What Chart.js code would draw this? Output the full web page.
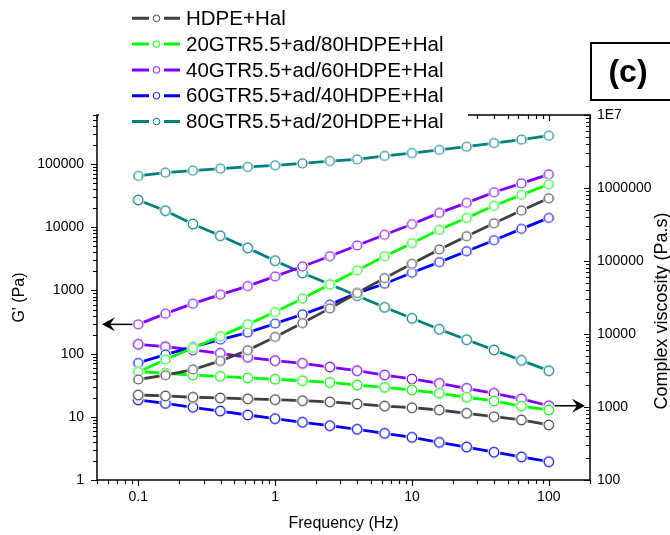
<!DOCTYPE html>
<html>
<head>
<meta charset="utf-8">
<title>G' and complex viscosity vs frequency</title>
<script src="https://cdn.jsdelivr.net/npm/chart.js@4.4.1/dist/chart.umd.min.js"></script>
<style>
  html, body { margin: 0; padding: 0; background: #fff; }
  #wrap { position: relative; width: 670px; height: 535px; }
</style>
</head>
<body>
<div id="wrap"><canvas id="rheo" width="670" height="535"></canvas></div>
<script>
// frequency sweep, 5 points per decade
const freq = [0.1, 0.158, 0.251, 0.398, 0.631, 1, 1.585, 2.512, 3.981, 6.31, 10, 15.85, 25.12, 39.81, 63.1, 100];

const names = [
  'HDPE+Hal',
  '20GTR5.5+ad/80HDPE+Hal',
  '40GTR5.5+ad/60HDPE+Hal',
  '60GTR5.5+ad/40HDPE+Hal',
  '80GTR5.5+ad/20HDPE+Hal'
];
const colors = ['#404040', '#00ff00', '#8000ff', '#0000ff', '#008080'];

// storage modulus G' (Pa) - left axis
const gHdpe = [39, 45.6, 56.1, 76.7, 113, 184, 305, 521, 910, 1570, 2650, 4460, 7230, 11600, 18400, 28800];
const g20 = [51.4, 80.7, 123, 188, 291, 456, 750, 1240, 2080, 3490, 5610, 9130, 14100, 21900, 32600, 48000];
const g40 = [291, 430, 618, 859, 1173, 1670, 2400, 3490, 5160, 7620, 11200, 16900, 24400, 35900, 49700, 69000];
const g60 = [71.3, 96.8, 128, 167, 216, 299, 419, 597, 910, 1280, 1910, 2810, 4190, 6250, 9460, 14100];
const g80 = [65100, 73400, 78900, 84900, 90300, 95700, 103000, 112000, 119000, 135000, 150000, 168000, 189000, 216000, 244000, 282000];

// complex viscosity (Pa.s) - right axis
const etaHdpe = [1460, 1420, 1360, 1330, 1290, 1260, 1220, 1175, 1100, 1030, 978, 910, 820, 736, 664, 567];
const eta20 = [3050, 2900, 2740, 2630, 2500, 2400, 2290, 2170, 2000, 1860, 1710, 1540, 1360, 1210, 1030, 910];
const eta40 = [7230, 6700, 6040, 5440, 4800, 4310, 3970, 3530, 3140, 2740, 2420, 2110, 1800, 1540, 1290, 1040];
const eta60 = [1250, 1120, 991, 881, 777, 692, 617, 554, 495, 436, 384, 328, 283, 240, 207, 178];
const eta80 = [685000, 489000, 321000, 222000, 151000, 101000, 68500, 48000, 33500, 23200, 16400, 11600, 8350, 6040, 4360, 3140];

const gSets = [gHdpe, g20, g40, g60, g80];
const etaSets = [etaHdpe, eta20, eta40, eta60, eta80];

// axis ranges and labelled ticks
const xRange = [0.05, 200];
const gRange = [1, 600000];
const etaRange = [100, 1e7];
const xLabels = [0.1, 1, 10, 100];
const gLabels = [1, 10, 100, 1000, 10000, 100000];
const etaLabels = [100, 1000, 10000, 100000, 1000000, 10000000];

// 1..9 x 10^n inside a range
function logTicks(min, max) {
  const out = [];
  for (let e = Math.floor(Math.log10(min)); e <= Math.ceil(Math.log10(max)); e++) {
    for (let k = 1; k <= 9; k++) {
      const v = Number((k * Math.pow(10, e)).toPrecision(3));
      if (v >= min && v <= max) out.push(v);
    }
  }
  return out;
}
const isDecade = v => Math.abs(Math.log10(v) - Math.round(Math.log10(v))) < 1e-9;

// hollow circle with a white halo, like the origin symbols
function marker(color, r, halo, lw) {
  const size = Math.ceil(2 * (r + halo + lw)) + 2;
  const c = document.createElement('canvas');
  c.width = c.height = size;
  const g = c.getContext('2d');
  const m = size / 2;
  g.fillStyle = '#fff';
  g.beginPath(); g.arc(m, m, r + halo, 0, Math.PI * 2); g.fill();
  g.strokeStyle = color; g.lineWidth = lw;
  g.beginPath(); g.arc(m, m, r, 0, Math.PI * 2); g.stroke();
  return c;
}

const FONT = '"Liberation Sans", Arial, Helvetica, sans-serif';
Chart.defaults.font.family = FONT;
Chart.defaults.color = '#000';

const datasets = [];
gSets.forEach((arr, i) => {
  datasets.push({
    label: names[i] + " G'",
    data: arr.map((v, j) => ({ x: freq[j], y: v })),
    yAxisID: 'y',
    borderColor: colors[i],
    borderWidth: 2.8,
    pointStyle: marker(colors[i], 4.5, 1.6, 1.2),
    pointRadius: 5,
    tension: 0
  });
});
etaSets.forEach((arr, i) => {
  datasets.push({
    label: names[i] + ' eta*',
    data: arr.map((v, j) => ({ x: freq[j], y: v })),
    yAxisID: 'y1',
    borderColor: colors[i],
    borderWidth: 2.8,
    pointStyle: marker(colors[i], 4.8, 1.6, 1.2),
    pointRadius: 5,
    tension: 0
  });
});

function arrow(ctx, x0, xTip, y) {
  const dir = xTip < x0 ? -1 : 1;
  ctx.beginPath();
  ctx.moveTo(x0, y);
  ctx.lineTo(xTip - dir * 4, y);
  ctx.stroke();
  ctx.beginPath();
  ctx.moveTo(xTip, y);
  ctx.lineTo(xTip - dir * 13, y - 7);
  ctx.lineTo(xTip - dir * 8, y);
  ctx.lineTo(xTip - dir * 13, y + 7);
  ctx.closePath();
  ctx.fill();
}

// frame, inward/outward tick marks
const framePlugin = {
  id: 'frame',
  beforeDatasetsDraw(chart) {
    const { ctx, chartArea: a, scales } = chart;
    ctx.save();
    ctx.strokeStyle = '#000';
    ctx.lineWidth = 1.5;
    ctx.strokeRect(a.left, a.top, a.right - a.left, a.bottom - a.top);
    ctx.beginPath();
    logTicks(xRange[0], xRange[1]).forEach(v => {
      const px = Math.round(scales.x.getPixelForValue(v)) + 0.5;
      const len = isDecade(v) ? 6 : 4;
      ctx.moveTo(px, a.bottom); ctx.lineTo(px, a.bottom + len);
      ctx.moveTo(px, a.top); ctx.lineTo(px, a.top + len);
    });
    logTicks(gRange[0], gRange[1]).forEach(v => {
      const py = Math.round(scales.y.getPixelForValue(v)) + 0.5;
      const len = isDecade(v) ? 6 : 4;
      ctx.moveTo(a.left, py); ctx.lineTo(a.left - len, py);
    });
    logTicks(etaRange[0], etaRange[1]).forEach(v => {
      const py = Math.round(scales.y1.getPixelForValue(v)) + 0.5;
      const len = isDecade(v) ? 6 : 4;
      ctx.moveTo(a.right, py); ctx.lineTo(a.right - len, py);
    });
    ctx.lineWidth = 1.2;
    ctx.stroke();
    ctx.restore();
  },
  afterDatasetsDraw(chart) {
    const { ctx, scales } = chart;
    ctx.save();
    ctx.strokeStyle = '#000';
    ctx.fillStyle = '#000';
    ctx.lineWidth = 1.5;
    // G' arrow from first 40GTR point, eta arrow from last one
    const yl = scales.y.getPixelForValue(g40[0]);
    arrow(ctx, scales.x.getPixelForValue(freq[0]) - 6, scales.x.getPixelForValue(xRange[0]) + 5, yl);
    const yr = scales.y1.getPixelForValue(eta40[eta40.length - 1]);
    arrow(ctx, scales.x.getPixelForValue(freq[freq.length - 1]) + 6, scales.x.getPixelForValue(xRange[1]) - 5, yr);
    ctx.restore();
  },
  afterDraw(chart) {
    const { ctx } = chart;
    ctx.save();
    // legend block (white, hides the top axis beneath it)
    ctx.fillStyle = '#fff';
    ctx.fillRect(99, 0, 369, 134);
    names.forEach((n, i) => {
      const y = 18.3 + 25.8 * i;
      ctx.strokeStyle = colors[i];
      ctx.lineWidth = 3;
      ctx.beginPath();
      ctx.moveTo(132, y); ctx.lineTo(149, y);
      ctx.moveTo(164, y); ctx.lineTo(180, y);
      ctx.stroke();
      const mk = marker(colors[i], 3.3, 0, 1);
      ctx.drawImage(mk, 156.5 - mk.width / 2, y - mk.height / 2);
      ctx.fillStyle = '#000';
      ctx.font = '20.5px ' + FONT;
      ctx.textBaseline = 'middle';
      ctx.textAlign = 'left';
      ctx.fillText(n, 186, y + 1);
    });
    // right axis title, reading upwards
    ctx.save();
    ctx.translate(662, 311);
    ctx.rotate(-Math.PI / 2);
    ctx.font = '18px ' + FONT;
    ctx.textAlign = 'center';
    ctx.textBaseline = 'middle';
    ctx.fillStyle = '#000';
    ctx.fillText('Complex viscosity (Pa.s)', 0, 0);
    ctx.restore();
    // panel tag
    ctx.strokeStyle = '#000';
    ctx.lineWidth = 2;
    ctx.strokeRect(591, 43, 90, 57);
    ctx.font = 'bold 32px ' + FONT;
    ctx.textAlign = 'center';
    ctx.textBaseline = 'middle';
    ctx.fillStyle = '#000';
    ctx.fillText('(c)', 628, 73);
    ctx.restore();
  }
};

new Chart(document.getElementById('rheo'), {
  type: 'line',
  data: { datasets: datasets },
  options: {
    responsive: false,
    animation: false,
    events: [],
    layout: { padding: { top: 115, left: 0, right: 0, bottom: 0 } },
    plugins: {
      legend: { display: false },
      tooltip: { enabled: false }
    },
    scales: {
      x: {
        type: 'logarithmic',
        min: xRange[0],
        max: xRange[1],
        grid: { display: false, drawTicks: false },
        border: { display: false },
        afterBuildTicks: s => { s.ticks = logTicks(xRange[0], xRange[1]).map(v => ({ value: v })); },
        afterFit: s => { s.height = 55; },
        ticks: {
          autoSkip: false,
          maxRotation: 0,
          padding: 9,
          font: { size: 14 },
          color: '#000',
          callback: v => (xLabels.includes(v) ? String(v) : '')
        },
        title: { display: true, text: 'Frequency (Hz)', font: { size: 16 }, color: '#000', padding: { top: 0, bottom: 2 } }
      },
      y: {
        type: 'logarithmic',
        position: 'left',
        min: gRange[0],
        max: gRange[1],
        grid: { display: false, drawTicks: false },
        border: { display: false },
        afterBuildTicks: s => { s.ticks = logTicks(gRange[0], gRange[1]).map(v => ({ value: v })); },
        afterFit: s => { s.width = 97; },
        ticks: {
          autoSkip: false,
          padding: 13,
          font: { size: 14 },
          color: '#000',
          callback: v => (gLabels.includes(v) ? String(v) : '')
        },
        title: { display: true, text: "G' (Pa)", font: { size: 16 }, color: '#000', padding: { top: 10, bottom: 0 } }
      },
      y1: {
        type: 'logarithmic',
        position: 'right',
        min: etaRange[0],
        max: etaRange[1],
        grid: { display: false, drawTicks: false },
        border: { display: false },
        afterBuildTicks: s => { s.ticks = logTicks(etaRange[0], etaRange[1]).map(v => ({ value: v })); },
        afterFit: s => { s.width = 80; },
        ticks: {
          autoSkip: false,
          padding: 7,
          font: { size: 14 },
          color: '#000',
          callback: v => (v === 1e7 ? '1E7' : (etaLabels.includes(v) ? String(v) : ''))
        }
      }
    }
  },
  plugins: [framePlugin]
});
</script>
</body>
</html>
